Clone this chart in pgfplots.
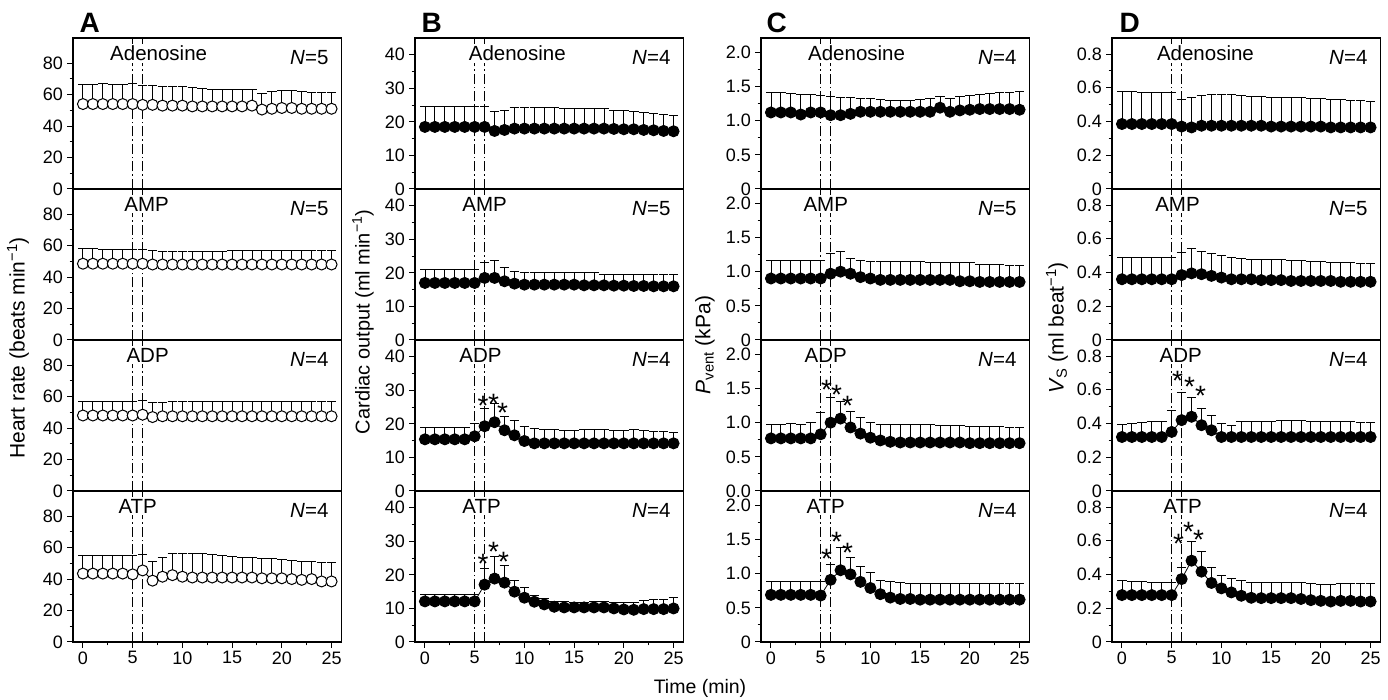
\documentclass[border=0pt]{standalone}
\usepackage{fontspec}
\setmainfont{Liberation Sans}
\usepackage{pgfplots}
\usepackage{pgfplotstable}
\pgfplotsset{compat=1.18}

\newcommand\tfont{\fontsize{18}{21}\selectfont}
\newcommand\lfont{\fontsize{20.5}{24}\selectfont}

\pgfplotstableread{
x m1 u1 m2 u2 m3 u3 m4 u4
0 54 66.5 48.5 58 48 57 43.5 55
1 54 66.5 48.5 58 48 57 43.5 55
2 54 67 48.5 57.5 48 57 43.5 55
3 54 66.5 48.5 57.5 48 57 43.5 55
4 54 66.5 48.5 57.5 48 57 43.5 55
5 54 67 48.5 57.5 48 57 43 55
6 53.5 66 48.5 57.5 48.5 57.5 45.5 55.5
7 53.5 66 48 57 47 56 39 51.5
8 53 65.5 48 56.5 47.5 56.5 41.5 54
9 53 65.5 48 56.5 47.5 57 42.5 56
10 53 65 48 56.5 47.5 57 41.5 56
11 52.5 64.5 48 56.5 47.5 57 41 56
12 52.5 64 48 56.5 47.5 57 41 56
13 52.5 63.5 48 56.5 47.5 57 41 55.5
14 52.5 63.5 48 56.5 47.5 57 41 55
15 52.5 63.5 48 57 47.5 57 41 54.5
16 52.5 63.5 48 57 47.5 57 41 54
17 53 63.5 48 57 47.5 57 41 53.5
18 50.5 61 48 57 47.5 57 40.5 53
19 51 62 48 57 47.5 57 40.5 53
20 51.5 62.5 48 57 47.5 57 40.5 52.5
21 51.5 62.5 48 57 47.5 57 40 52
22 51 62 48 57 47.5 57 39.5 51.5
23 51 61.5 48 57 47.5 57 40 51.5
24 51 61.5 48 57 47.5 57 38.5 50.5
25 51 61.5 48 57 47.5 57 38.5 50.5
}\tabA

\pgfplotstableread{
x m1 u1 m2 u2 m3 u3 m4 u4
0 18.5 24.5 17 21 15.4 19 12.1 14.2
1 18.5 24.5 17 21 15.4 19 12.1 14.2
2 18.5 24.5 17 21 15.4 18.8 12.1 14.2
3 18.5 24.5 17 21 15.4 18.8 12.1 14.2
4 18.5 24.5 17 21 15.4 19 12.1 14.2
5 18.5 24.5 17 21 16.3 20.2 12.1 14.2
6 18.5 24.5 18.5 23 19.3 24.6 17.1 22
7 17.3 23 18.5 23.8 20.5 26.1 18.9 25.5
8 17.6 23.5 17.5 21.5 18.1 22.3 17.7 22.8
9 18 24.2 16.8 20.5 16.6 21 15 18.3
10 18 24.2 16.5 20 14.9 19.3 13.2 16.3
11 18 24.2 16.5 20 14.2 18.6 12 13.9
12 18 24.2 16.5 20 14.2 18.3 11.2 12.9
13 18 24.2 16.5 20 14.2 18.2 10.5 12.2
14 18 24 16.5 20 14.2 18.1 10.3 12
15 18 24 16.5 20 14.2 18 10.3 11.8
16 18 24 16.3 20 14.2 18.2 10.3 11.8
17 18 24 16.3 20 14.2 18.4 10.3 12
18 18 24 16.3 19.5 14.2 18.3 10.3 12
19 17.9 23.5 16.2 19.5 14.2 18 10 11.8
20 17.8 23.3 16.2 19.5 14.2 18 9.7 11.8
21 17.8 23 16.1 19.5 14.2 18.2 9.6 11.8
22 17.6 22.8 16.1 19.5 14.2 18 9.8 12.3
23 17.5 22.5 16 19.5 14.2 17.8 9.8 12.6
24 17.3 22.3 16 19.5 14.2 17.6 9.8 12.8
25 17.2 22 16 19.5 14.2 17.5 10 13.2
}\tabB

\pgfplotstableread{
x m1 u1 m2 u2 m3 u3 m4 u4
0 1.12 1.42 0.9 1.17 0.77 0.97 0.69 0.89
1 1.12 1.41 0.9 1.17 0.77 0.97 0.69 0.89
2 1.12 1.40 0.9 1.17 0.77 0.99 0.69 0.89
3 1.09 1.39 0.9 1.17 0.77 0.98 0.69 0.89
4 1.12 1.38 0.9 1.17 0.77 1.0 0.69 0.89
5 1.12 1.37 0.9 1.17 0.83 1.15 0.68 0.89
6 1.08 1.35 0.97 1.26 1.0 1.37 0.91 1.14
7 1.08 1.34 1.0 1.29 1.06 1.31 1.05 1.39
8 1.1 1.34 0.97 1.2 0.93 1.17 0.99 1.24
9 1.13 1.33 0.92 1.17 0.84 1.08 0.88 1.10
10 1.13 1.32 0.9 1.15 0.78 1.01 0.79 1.02
11 1.13 1.31 0.88 1.15 0.74 0.98 0.70 0.90
12 1.13 1.30 0.88 1.15 0.72 0.97 0.65 0.88
13 1.13 1.30 0.88 1.15 0.71 0.97 0.63 0.87
14 1.13 1.30 0.88 1.15 0.71 0.97 0.63 0.86
15 1.13 1.31 0.88 1.15 0.71 0.97 0.62 0.86
16 1.13 1.33 0.88 1.13 0.71 0.97 0.62 0.86
17 1.19 1.36 0.88 1.13 0.71 0.96 0.62 0.86
18 1.13 1.33 0.88 1.13 0.71 0.96 0.62 0.86
19 1.15 1.35 0.86 1.13 0.71 0.96 0.62 0.85
20 1.16 1.37 0.86 1.13 0.7 0.95 0.62 0.85
21 1.17 1.39 0.85 1.11 0.7 0.95 0.62 0.85
22 1.17 1.40 0.85 1.1 0.7 0.94 0.62 0.85
23 1.17 1.41 0.85 1.1 0.7 0.94 0.62 0.85
24 1.17 1.42 0.85 1.09 0.7 0.93 0.62 0.85
25 1.16 1.43 0.85 1.09 0.7 0.93 0.62 0.85
}\tabC

\pgfplotstableread{
x m1 u1 m2 u2 m3 u3 m4 u4
0 0.385 0.58 0.36 0.49 0.32 0.395 0.278 0.363
1 0.385 0.58 0.36 0.49 0.32 0.40 0.278 0.36
2 0.385 0.575 0.36 0.49 0.32 0.405 0.278 0.358
3 0.385 0.575 0.36 0.49 0.32 0.41 0.278 0.355
4 0.385 0.57 0.36 0.49 0.32 0.415 0.278 0.352
5 0.385 0.57 0.36 0.49 0.35 0.475 0.278 0.35
6 0.37 0.53 0.385 0.52 0.42 0.585 0.373 0.44
7 0.365 0.545 0.395 0.54 0.44 0.555 0.482 0.595
8 0.375 0.555 0.39 0.525 0.39 0.49 0.417 0.536
9 0.375 0.56 0.38 0.51 0.36 0.45 0.35 0.443
10 0.375 0.56 0.37 0.50 0.32 0.40 0.318 0.393
11 0.375 0.56 0.36 0.49 0.32 0.39 0.294 0.377
12 0.375 0.555 0.36 0.485 0.32 0.41 0.274 0.363
13 0.375 0.55 0.36 0.48 0.32 0.415 0.262 0.355
14 0.375 0.55 0.355 0.48 0.32 0.415 0.26 0.355
15 0.37 0.545 0.355 0.475 0.32 0.415 0.26 0.35
16 0.37 0.545 0.355 0.475 0.32 0.42 0.26 0.35
17 0.37 0.54 0.35 0.47 0.32 0.42 0.26 0.35
18 0.37 0.54 0.35 0.47 0.32 0.42 0.255 0.35
19 0.37 0.535 0.35 0.465 0.32 0.415 0.248 0.345
20 0.37 0.535 0.35 0.465 0.32 0.415 0.244 0.34
21 0.365 0.53 0.35 0.46 0.32 0.41 0.24 0.34
22 0.365 0.53 0.345 0.46 0.32 0.41 0.244 0.345
23 0.365 0.525 0.345 0.46 0.32 0.41 0.244 0.345
24 0.365 0.525 0.345 0.455 0.32 0.405 0.24 0.345
25 0.365 0.52 0.345 0.455 0.32 0.405 0.24 0.345
}\tabD

\tikzset{
  toplab/.style={font=\lfont, fill=white, inner sep=2pt},
  nlab/.style={font=\lfont, anchor=east, inner sep=0pt},
  ast/.style={font=\fontsize{28}{30}\selectfont, inner sep=0pt, yshift=-6pt},
  vline/.style={black, line width=0.8pt, dash pattern=on 10pt off 3pt on 1.5pt off 3pt},
}
\pgfplotsset{
  panel/.style={scale only axis, width=268.5pt, height=151pt, xmin=-1, xmax=26, ymin=0,
    axis line style={line width=1.2pt},
    tick style={black, line width=1pt},
    tick align=outside, ytick pos=left, xtick pos=left,
    major tick length=6pt, minor tick length=3.5pt,
    minor y tick num=1,
    xtick=\empty,
    yticklabel style={font=\tfont, inner sep=0pt, xshift=-4pt},
    xticklabel style={font=\tfont},
    clip=false, anchor=south west},
  bottomrow/.style={xtick={0,5,10,15,20,25}, xticklabels={0,5,10,15,20,25}, minor x tick num=1},
  colA/.style={ymax=96, ytick={0,20,40,60,80}, yticklabels={0,20,40,60,80}},
  colB/.style={ymax=45, ytick={0,10,20,30,40}, yticklabels={0,10,20,30,40}},
  colC/.style={ymax=2.21, ytick={0,0.5,1,1.5,2}, yticklabels={0,0.5,1.0,1.5,2.0}},
  colCz/.style={ymax=2.21, ytick={0,0.5,1,1.5,2}, yticklabels={0.0,0.5,1.0,1.5,2.0}},
  colD/.style={ymax=0.895, ytick={0,0.2,0.4,0.6,0.8}, yticklabels={0,0.2,0.4,0.6,0.8}},
}

% #1 table, #2 mean column, #3 upper column, #4 marker fill
\newcommand{\series}[4]{%
  \addplot[black, line width=0.8pt, mark=none,
    error bars/.cd, y dir=plus, y explicit,
    error bar style={line width=0.9pt, black, solid},
    error mark options={rotate=90, mark size=4.8pt, line width=0.9pt, black, solid}]
    table[x=x, y=#2, y error expr=\thisrow{#3}-\thisrow{#2}] {#1};
  \addplot[only marks, mark=*, mark size=5.5pt,
    mark options={draw=black, fill=#4, line width=1pt, solid}]
    table[x=x, y=#2] {#1};
}
\newcommand{\vlines}[1]{%
  \addplot[vline, forget plot] coordinates {(5,0) (5,#1)};
  \addplot[vline, forget plot] coordinates {(6,0) (6,#1)};
}

\begin{document}
\begin{tikzpicture}[x=1pt,y=1pt]
\useasboundingbox (0,0) rectangle (1388,700);

% ===================== Column A =====================
\begin{axis}[panel, colA, at={(73pt,511pt)}]
\vlines{96}
\node[toplab] at (rel axis cs:0.319,0.9) {Adenosine};
\node[nlab] at (rel axis cs:0.952,0.868) {\textit{N}=5};
\series{\tabA}{m1}{u1}{white}
\end{axis}
\begin{axis}[panel, colA, at={(73pt,360pt)}]
\vlines{96}
\node[toplab] at (rel axis cs:0.274,0.9) {AMP};
\node[nlab] at (rel axis cs:0.952,0.868) {\textit{N}=5};
\series{\tabA}{m2}{u2}{white}
\end{axis}
\begin{axis}[panel, colA, at={(73pt,209pt)}]
\vlines{96}
\node[toplab] at (rel axis cs:0.278,0.9) {ADP};
\node[nlab] at (rel axis cs:0.952,0.868) {\textit{N}=4};
\series{\tabA}{m3}{u3}{white}
\end{axis}
\begin{axis}[panel, colA, bottomrow, at={(73pt,58pt)}]
\vlines{96}
\node[toplab] at (rel axis cs:0.241,0.9) {ATP};
\node[nlab] at (rel axis cs:0.952,0.868) {\textit{N}=4};
\series{\tabA}{m4}{u4}{white}
\end{axis}

% ===================== Column B =====================
\begin{axis}[panel, colB, at={(415pt,511pt)}]
\vlines{45}
\node[toplab] at (rel axis cs:0.381,0.9) {Adenosine};
\node[nlab] at (rel axis cs:0.952,0.868) {\textit{N}=4};
\series{\tabB}{m1}{u1}{black}
\end{axis}
\begin{axis}[panel, colB, at={(415pt,360pt)}]
\vlines{45}
\node[toplab] at (rel axis cs:0.259,0.9) {AMP};
\node[nlab] at (rel axis cs:0.952,0.868) {\textit{N}=5};
\series{\tabB}{m2}{u2}{black}
\end{axis}
\begin{axis}[panel, colB, at={(415pt,209pt)}]
\vlines{45}
\node[toplab] at (rel axis cs:0.244,0.9) {ADP};
\node[nlab] at (rel axis cs:0.952,0.868) {\textit{N}=4};
\series{\tabB}{m3}{u3}{black}
\node[ast] at (axis cs:5.85,27.3) {*};
\node[ast] at (axis cs:6.9,27.9) {*};
\node[ast] at (axis cs:7.8,25) {*};
\end{axis}
\begin{axis}[panel, colB, bottomrow, at={(415pt,58pt)}]
\vlines{45}
\node[toplab] at (rel axis cs:0.248,0.9) {ATP};
\node[nlab] at (rel axis cs:0.952,0.868) {\textit{N}=4};
\series{\tabB}{m4}{u4}{black}
\node[ast] at (axis cs:5.85,25.2) {*};
\node[ast] at (axis cs:6.9,28.7) {*};
\node[ast] at (axis cs:7.9,25.8) {*};
\end{axis}

% ===================== Column C =====================
\begin{axis}[panel, colC, at={(761pt,511pt)}]
\vlines{2.21}
\node[toplab] at (rel axis cs:0.356,0.9) {Adenosine};
\node[nlab] at (rel axis cs:0.952,0.868) {\textit{N}=4};
\series{\tabC}{m1}{u1}{black}
\end{axis}
\begin{axis}[panel, colC, at={(761pt,360pt)}]
\vlines{2.21}
\node[toplab] at (rel axis cs:0.241,0.9) {AMP};
\node[nlab] at (rel axis cs:0.952,0.868) {\textit{N}=5};
\series{\tabC}{m2}{u2}{black}
\end{axis}
\begin{axis}[panel, colCz, at={(761pt,209pt)}]
\vlines{2.21}
\node[toplab] at (rel axis cs:0.241,0.9) {ADP};
\node[nlab] at (rel axis cs:0.952,0.868) {\textit{N}=4};
\series{\tabC}{m3}{u3}{black}
\node[ast] at (axis cs:5.6,1.57) {*};
\node[ast] at (axis cs:6.6,1.5) {*};
\node[ast] at (axis cs:7.7,1.34) {*};
\end{axis}
\begin{axis}[panel, colC, bottomrow, at={(761pt,58pt)}]
\vlines{2.21}
\node[toplab] at (rel axis cs:0.241,0.9) {ATP};
\node[nlab] at (rel axis cs:0.952,0.868) {\textit{N}=4};
\series{\tabC}{m4}{u4}{black}
\node[ast] at (axis cs:5.6,1.31) {*};
\node[ast] at (axis cs:6.6,1.55) {*};
\node[ast] at (axis cs:7.7,1.39) {*};
\end{axis}

% ===================== Column D =====================
\begin{axis}[panel, colD, at={(1112pt,511pt)}]
\vlines{0.895}
\node[toplab] at (rel axis cs:0.348,0.9) {Adenosine};
\node[nlab] at (rel axis cs:0.952,0.868) {\textit{N}=4};
\series{\tabD}{m1}{u1}{black}
\end{axis}
\begin{axis}[panel, colD, at={(1112pt,360pt)}]
\vlines{0.895}
\node[toplab] at (rel axis cs:0.244,0.9) {AMP};
\node[nlab] at (rel axis cs:0.952,0.868) {\textit{N}=5};
\series{\tabD}{m2}{u2}{black}
\end{axis}
\begin{axis}[panel, colD, at={(1112pt,209pt)}]
\vlines{0.895}
\node[toplab] at (rel axis cs:0.256,0.9) {ADP};
\node[nlab] at (rel axis cs:0.952,0.868) {\textit{N}=4};
\series{\tabD}{m3}{u3}{black}
\node[ast] at (axis cs:5.6,0.69) {*};
\node[ast] at (axis cs:6.8,0.65) {*};
\node[ast] at (axis cs:7.9,0.60) {*};
\end{axis}
\begin{axis}[panel, colD, bottomrow, at={(1112pt,58pt)}]
\vlines{0.895}
\node[toplab] at (rel axis cs:0.263,0.9) {ATP};
\node[nlab] at (rel axis cs:0.952,0.868) {\textit{N}=4};
\series{\tabD}{m4}{u4}{black}
\node[ast] at (axis cs:5.7,0.615) {*};
\node[ast] at (axis cs:6.7,0.687) {*};
\node[ast] at (axis cs:7.7,0.641) {*};
\end{axis}

% ===================== Labels =====================
\node[anchor=base west, font=\fontsize{28}{30}\selectfont\bfseries] at (76,667) {A};
\node[anchor=base west, font=\fontsize{28}{30}\selectfont\bfseries] at (418,667) {B};
\node[anchor=base west, font=\fontsize{28}{30}\selectfont\bfseries] at (763,667) {C};
\node[anchor=base west, font=\fontsize{28}{30}\selectfont\bfseries] at (1116,667) {D};

\node[rotate=90, font=\fontsize{21}{24}\selectfont] at (18,352) {Heart rate (beats min\textsuperscript{−1})};
\node[rotate=90, font=\fontsize{20}{24}\selectfont] at (363,378) {Cardiac output (ml min\textsuperscript{−1})};
\node[rotate=90, font=\fontsize{21}{24}\selectfont] at (705,355) {\textit{P}\textsubscript{vent} (kPa)};
\node[rotate=90, font=\fontsize{21}{24}\selectfont] at (1057,372) {\textit{V}\textsubscript{S} (ml beat\textsuperscript{−1})};
\node[font=\fontsize{19.5}{22}\selectfont] at (700,12) {Time (min)};
\end{tikzpicture}
\end{document}
